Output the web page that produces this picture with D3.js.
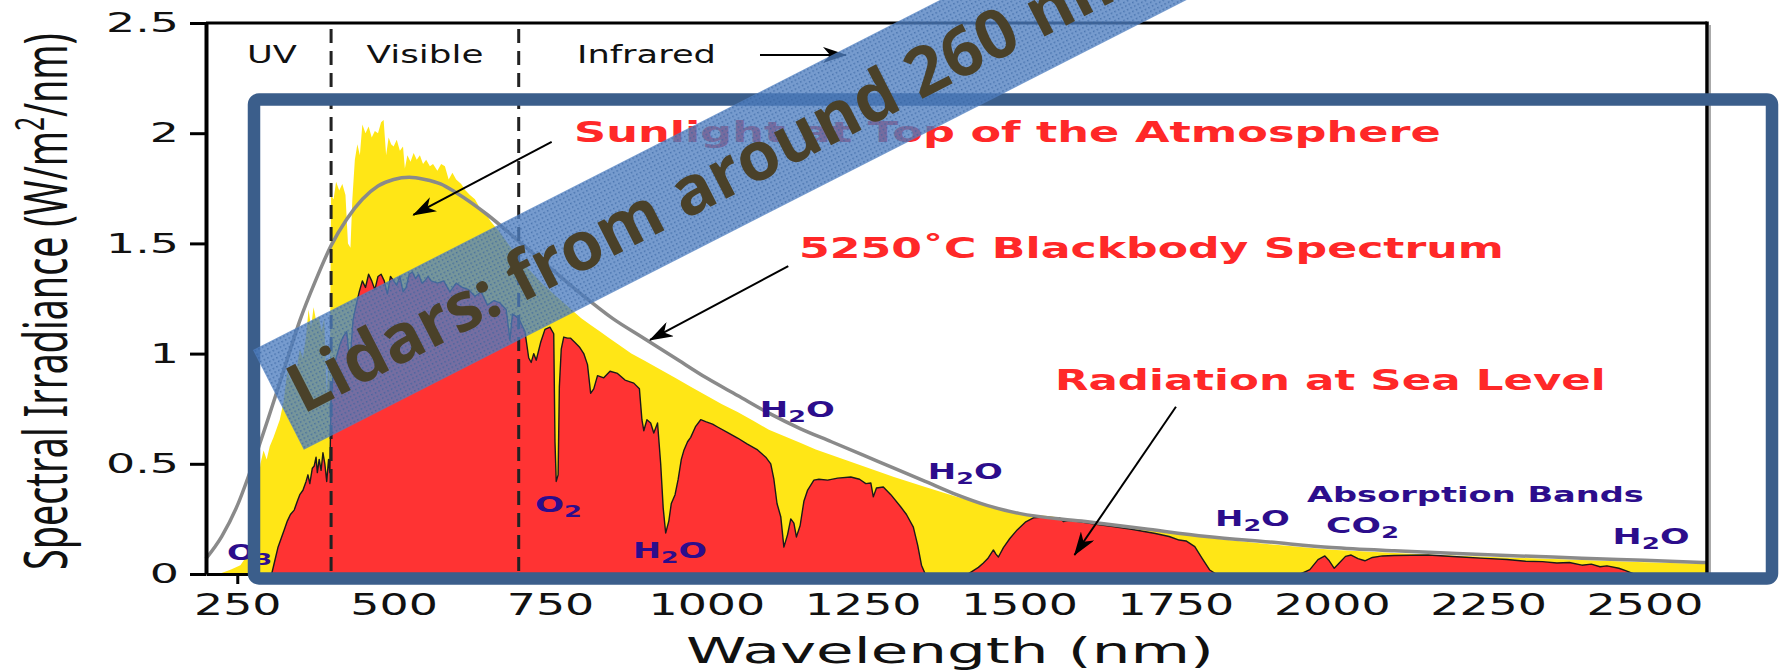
<!DOCTYPE html>
<html>
<head>
<meta charset="utf-8">
<script src="https://d3js.org/d3.v7.min.js"></script>
<style>
  body { margin: 0; background: #fff; }
  svg { display: block; }
</style>
</head>
<body>
<script>
// spectra: [wavelength nm, W/m2/nm]
const topOfAtmosphere = [
  [200,0],[225,0.005],[240,0.02],[255,0.04],[265,0.08],[272,0.15],[280,0.3],[287,0.5],[292,0.56],[297,0.52],
  [302,0.58],[308,0.62],[313,0.66],[318,0.7],[324,0.78],[330,0.92],[335,0.88],[340,0.95],[345,0.93],[350,1.02],
  [355,0.98],[360,1.08],[364,1.2],[368,1.12],[372,1.21],[376,1.15],[380,1.17],[385,1.1],[389,1.16],[393,0.8],
  [396,1.0],[398,0.85],[400,1.72],[404,1.7],[408,1.78],[413,1.74],[418,1.77],[423,1.72],[427,1.5],[431,1.48],
  [434,1.7],[438,1.88],[442,1.95],[446,1.9],[450,2.04],[455,2.0],[460,2.03],[465,1.98],[470,2.01],[475,2.0],
  [480,2.05],[484,2.06],[488,1.9],[492,1.98],[496,1.95],[500,1.94],[505,1.97],[510,1.92],[515,1.94],[518,1.84],
  [522,1.9],[527,1.87],[532,1.91],[537,1.88],[542,1.9],[547,1.86],[552,1.88],[558,1.85],[563,1.86],[570,1.83],
  [576,1.86],[582,1.85],[588,1.79],[594,1.82],[600,1.79],[608,1.77],[615,1.74],[622,1.72],[630,1.7],[638,1.66],
  [646,1.64],[655,1.6],[661,1.58],[670,1.55],[680,1.51],[690,1.47],[700,1.43],[720,1.37],[740,1.31],[760,1.26],
  [780,1.21],[800,1.16],[815,1.13],[830,1.1],[845,1.07],[860,1.04],[880,1.0],[900,0.97],[925,0.93],[950,0.89],
  [975,0.85],[1000,0.81],[1025,0.77],[1050,0.735],[1075,0.695],[1100,0.655],[1125,0.625],[1150,0.595],
  [1175,0.565],[1200,0.54],[1225,0.515],[1250,0.49],[1275,0.465],[1300,0.44],[1350,0.395],[1400,0.35],
  [1450,0.312],[1500,0.275],[1550,0.262],[1600,0.24],[1650,0.222],[1700,0.203],[1750,0.185],[1800,0.165],
  [1850,0.15],[1900,0.135],[1950,0.122],[2000,0.11],[2100,0.095],[2200,0.083],[2300,0.073],[2400,0.063],
  [2500,0.053],[2600,0.045]
];

const seaLevel = [
  [290,0],[305,0],[310,0.06],[315,0.12],[320,0.16],[325,0.2],[330,0.24],[335,0.27],[341,0.29],[346,0.33],
  [350,0.36],[355,0.38],[360,0.42],[363,0.45],[366,0.41],[370,0.48],[373,0.49],[376,0.53],[378,0.46],[381,0.52],
  [384,0.47],[387,0.55],[390,0.5],[393,0.42],[396,0.52],[398,0.46],[400,0.8],[405,0.95],[410,1.0],[415,1.05],
  [420,1.08],[425,1.1],[430,0.95],[435,1.15],[440,1.22],[445,1.28],[450,1.33],[455,1.3],[460,1.36],[465,1.33],
  [470,1.29],[475,1.35],[480,1.36],[485,1.33],[490,1.27],[495,1.35],[500,1.33],[505,1.31],[510,1.35],[515,1.28],
  [520,1.3],[525,1.36],[530,1.37],[535,1.34],[540,1.36],[545,1.32],[550,1.33],[555,1.35],[560,1.33],[570,1.32],
  [580,1.33],[590,1.28],[600,1.32],[610,1.3],[620,1.29],[630,1.26],[640,1.28],[650,1.22],[660,1.24],[670,1.23],
  [680,1.2],[686,1.06],[690,1.18],[700,1.16],[710,1.1],[716,0.98],[720,0.96],[724,1.0],[728,0.97],[735,1.05],
  [742,1.11],[750,1.12],[756,1.09],[758,0.6],[760,0.42],[763,0.45],[765,0.85],[768,1.02],[772,1.075],[778,1.07],
  [783,1.07],[790,1.05],[797,1.03],[804,1.0],[810,0.95],[815,0.82],[820,0.84],[826,0.9],[836,0.89],[846,0.92],
  [858,0.91],[870,0.88],[884,0.866],[893,0.84],[897,0.7],[900,0.65],[905,0.7],[911,0.685],[916,0.64],[922,0.685],
  [927,0.5],[931,0.3],[935,0.186],[940,0.24],[944,0.32],[950,0.36],[955,0.43],[960,0.52],[964,0.56],[970,0.6],
  [975,0.62],[983,0.67],[991,0.7],[1000,0.69],[1010,0.68],[1018,0.667],[1035,0.64],[1050,0.617],[1065,0.59],
  [1082,0.563],[1095,0.53],[1103,0.5],[1108,0.43],[1113,0.32],[1119,0.26],[1124,0.122],[1130,0.18],[1135,0.25],
  [1140,0.231],[1144,0.168],[1150,0.22],[1156,0.33],[1162,0.381],[1172,0.426],[1180,0.43],[1194,0.426],
  [1210,0.435],[1231,0.44],[1245,0.43],[1255,0.41],[1263,0.413],[1267,0.35],[1272,0.39],[1283,0.395],[1295,0.36],
  [1311,0.304],[1320,0.27],[1331,0.213],[1338,0.13],[1344,0.04],[1350,0],[1418,0],[1425,0.012],[1435,0.03],
  [1443,0.05],[1450,0.07],[1459,0.109],[1463,0.09],[1467,0.077],[1475,0.12],[1485,0.16],[1497,0.2],[1510,0.235],
  [1523,0.255],[1540,0.258],[1555,0.256],[1565,0.254],[1571,0.238],[1580,0.244],[1600,0.236],[1626,0.224],
  [1650,0.215],[1680,0.203],[1700,0.193],[1718,0.184],[1740,0.17],[1756,0.154],[1767,0.15],[1781,0.124],
  [1793,0.07],[1805,0.018],[1815,0],[1950,0],[1965,0.02],[1978,0.065],[1989,0.082],[1996,0.06],[2004,0.026],
  [2012,0.05],[2022,0.08],[2031,0.086],[2042,0.07],[2053,0.06],[2065,0.075],[2081,0.082],[2100,0.084],
  [2154,0.086],[2200,0.078],[2245,0.071],[2280,0.066],[2310,0.058],[2337,0.056],[2360,0.05],[2380,0.052],
  [2400,0.04],[2415,0.045],[2429,0.033],[2440,0.037],[2459,0.026],[2470,0.015],[2483,0],[2600,0]
];

const blackbody = [
  [200,0.07],[225,0.17],[250,0.31],[275,0.5],[300,0.71],[325,0.93],[350,1.15],[375,1.33],[400,1.49],[425,1.61],
  [450,1.7],[475,1.76],[500,1.79],[525,1.8],[550,1.79],[575,1.77],[600,1.73],[650,1.63],[700,1.51],[750,1.39],
  [800,1.27],[850,1.16],[900,1.07],[950,0.98],[1000,0.89],[1050,0.81],[1100,0.73],[1150,0.66],[1200,0.6],
  [1250,0.54],[1300,0.48],[1350,0.42],[1400,0.36],[1450,0.31],[1500,0.275],[1600,0.24],[1700,0.205],[1800,0.17],
  [1900,0.145],[2000,0.12],[2100,0.105],[2200,0.093],[2300,0.082],[2400,0.072],[2500,0.062],[2600,0.052]
];

const xTicks = [250, 500, 750, 1000, 1250, 1500, 1750, 2000, 2250, 2500];
const yTicks = [0, 0.5, 1, 1.5, 2, 2.5];
const bandEdges = [400, 700];   // UV | Visible | Infrared

// annotation layout, in data units
const regionNotes = [
  {text: 'UV', nm: 305.5, val: 2.318, w: 50, anchor: 'middle'},
  {text: 'Visible', nm: 550.2, val: 2.318, w: 117, anchor: 'middle'},
  {text: 'Infrared', nm: 793.2, val: 2.318, w: 139, anchor: 'start'}
];
const redNotes = [
  {text: 'Sunlight at Top of the Atmosphere', nm: 788.4, val: 1.961, w: 867},
  {text: '5250\u02DAC Blackbody Spectrum', nm: 1148.2, val: 1.434, w: 705},
  {text: 'Radiation at Sea Level', nm: 1557.5, val: 0.835, w: 551}
];
const gasNotes = [
  {text: 'O_3', nm: 233.6, val: 0.064, w: 45},
  {text: 'O_2', nm: 726, val: 0.281, w: 47},
  {text: 'H_2O', nm: 882.6, val: 0.073, w: 74},
  {text: 'H_2O', nm: 1085.6, val: 0.712, w: 75},
  {text: 'H_2O', nm: 1354.2, val: 0.431, w: 75},
  {text: 'H_2O', nm: 1813.3, val: 0.218, w: 75},
  {text: 'Absorption Bands', nm: 1960.4, val: 0.327, w: 337},
  {text: 'CO_2', nm: 1990.8, val: 0.186, w: 73},
  {text: 'H_2O', nm: 2449.1, val: 0.136, w: 77}
];
const arrows = [
  {from: [752.7, 1.961], to: [531.5, 1.629]},
  {from: [1131, 1.397], to: [909.9, 1.062]},
  {from: [1750.9, 0.759], to: [1588.7, 0.086]},
  {from: [1085.8, 2.355], to: [1223.3, 2.355]}
];

const W = 1779, H = 672;
const svg = d3.select('body').append('svg').attr('width', W).attr('height', H);

const x = d3.scaleLinear().domain([200, 2600]).range([206, 1707]);
const y = d3.scaleLinear().domain([0, 2.5]).range([574, 23]);

const defs = svg.append('defs');
defs.append('marker')
    .attr('id', 'head')
    .attr('markerUnits', 'userSpaceOnUse')
    .attr('viewBox', '0 -8 24 16')
    .attr('refX', 23).attr('refY', 0)
    .attr('markerWidth', 24).attr('markerHeight', 16)
    .attr('orient', 'auto')
    .append('path')
    .attr('d', 'M0,-8 L24,0 L0,8 L7,0 Z')
    .attr('fill', '#000');

const dots = defs.append('pattern')
    .attr('id', 'dots')
    .attr('patternUnits', 'userSpaceOnUse')
    .attr('width', 4).attr('height', 4);
dots.append('rect').attr('width', 4).attr('height', 4)
    .attr('fill', '#4f7fc0').attr('fill-opacity', 0.78);
dots.append('rect').attr('x', 1).attr('y', 1).attr('width', 1.5).attr('height', 1.5)
    .attr('fill', '#34609f').attr('fill-opacity', 0.7);

// text drawn wide, like the stretched original; "_2" subscript, "^2" superscript
function addText(parent, str, px, py, o) {
    const t = parent.append('text')
        .attr('font-family', o.family || 'DejaVu Sans')
        .attr('font-size', o.size)
        .attr('font-weight', o.weight || 'normal')
        .attr('fill', o.fill || '#111')
        .attr('text-anchor', o.anchor || 'start');
    let shift = 0;
    str.split(/([_^]\d)/).filter(s => s).forEach(p => {
        const ts = t.append('tspan');
        let s = 0;
        if (p[0] === '_') { s = o.size * 0.25; ts.attr('font-size', o.size * 0.75).text(p.slice(1)); }
        else if (p[0] === '^') { s = -o.size * 0.4; ts.attr('font-size', o.size * 0.65).text(p.slice(1)); }
        else ts.text(p);
        if (s - shift !== 0) ts.attr('dy', s - shift);
        shift = s;
    });
    const w0 = t.node().getComputedTextLength();
    const sx = o.width ? o.width / w0 : (o.sx || 1);
    t.attr('transform', `translate(${px},${py}) scale(${sx},1)`);
    return t;
}

// spectra
svg.append('path')
    .datum(topOfAtmosphere)
    .attr('fill', '#ffe616')
    .attr('d', d3.area().x(d => x(d[0])).y0(y(0)).y1(d => y(d[1])));

svg.append('path')
    .datum(seaLevel)
    .attr('fill', '#ff3333')
    .attr('d', d3.area().x(d => x(d[0])).y0(y(0)).y1(d => y(d[1])));

svg.append('path')
    .datum(seaLevel)
    .attr('fill', 'none')
    .attr('stroke', '#1a1a1a')
    .attr('stroke-width', 1.4)
    .attr('stroke-linejoin', 'round')
    .attr('d', d3.line().x(d => x(d[0])).y(d => y(d[1])));

svg.append('path')
    .datum(blackbody)
    .attr('fill', 'none')
    .attr('stroke', '#8a8a8a')
    .attr('stroke-width', 3.5)
    .attr('d', d3.line().curve(d3.curveMonotoneX).x(d => x(d[0])).y(d => y(d[1])));

// UV / visible / infrared separators
svg.selectAll('line.edge')
    .data(bandEdges)
    .enter()
    .append('line')
    .attr('class', 'edge')
    .attr('x1', d => x(d)).attr('x2', d => x(d))
    .attr('y1', y(2.5) + 6).attr('y2', y(0))
    .attr('stroke', '#222')
    .attr('stroke-width', 3)
    .attr('stroke-dasharray', '14,8');

// axes
const xAxis = d3.axisBottom(x).tickValues(xTicks).tickSize(10).tickSizeOuter(0).tickPadding(9).tickFormat(d => d);
const gx = svg.append('g').attr('transform', `translate(0,${y(0)})`).call(xAxis);
gx.select('.domain').attr('stroke', '#000').attr('stroke-width', 3);
gx.selectAll('.tick line').attr('stroke', '#000').attr('stroke-width', 3);
gx.selectAll('.tick text')
    .attr('font-family', 'DejaVu Sans')
    .attr('font-size', 31)
    .attr('fill', '#111')
    .attr('transform', 'scale(1.48,1)');

const yAxis = d3.axisLeft(y).tickValues(yTicks).tickSize(16).tickSizeOuter(0).tickPadding(10).tickFormat(d => d);
const gy = svg.append('g').attr('transform', `translate(${x(200)},0)`).call(yAxis);
gy.select('.domain').attr('stroke', '#000').attr('stroke-width', 4);
gy.selectAll('.tick line').attr('stroke', '#000').attr('stroke-width', 3);
gy.selectAll('.tick text')
    .attr('font-family', 'DejaVu Sans')
    .attr('font-size', 27)
    .attr('fill', '#111')
    .attr('x', -27 / 1.7)
    .attr('transform', 'scale(1.7,1)');

// top and right frame, with the grey shadow on the right
svg.append('line')
    .attr('x1', x(200)).attr('x2', x(2600)).attr('y1', y(2.5)).attr('y2', y(2.5))
    .attr('stroke', '#000').attr('stroke-width', 3);
svg.append('line')
    .attr('x1', x(2600) + 3).attr('x2', x(2600) + 3).attr('y1', y(2.5) + 2).attr('y2', y(0))
    .attr('stroke', '#aaa').attr('stroke-width', 2);
svg.append('line')
    .attr('x1', x(2600)).attr('x2', x(2600)).attr('y1', y(2.5) - 1.5).attr('y2', y(0))
    .attr('stroke', '#000').attr('stroke-width', 3.5);

// axis titles
addText(svg, 'Wavelength (nm)', 686, 663, {size: 36, width: 528});

// y title: condensed along its length, tall across it, like the original
const yTitle = svg.append('text')
    .attr('font-family', 'Noto Sans')
    .attr('font-size', 40)
    .attr('fill', '#111')
    .attr('text-anchor', 'middle');
yTitle.append('tspan').text('Spectral Irradiance (W/m');
yTitle.append('tspan').attr('class', 'sup').attr('dy', -15).attr('font-size', 26).text('2');
yTitle.append('tspan').attr('class', 'back').attr('dy', 15).text('/nm)');
const yLen = yTitle.node().getComputedTextLength();
const ySize = 40 * 537 / yLen;
yTitle.attr('font-size', ySize);
yTitle.select('.sup').attr('font-size', ySize * 0.65).attr('dy', -ySize * 0.38);
yTitle.select('.back').attr('dy', ySize * 0.38);
const yStretch = 42 / ySize * 1.45;
yTitle.attr('transform', `translate(67,301.5) scale(${yStretch},1) rotate(-90)`);

// annotations
regionNotes.forEach(n => addText(svg, n.text, x(n.nm), y(n.val), {size: 25, width: n.w, anchor: n.anchor}));
redNotes.forEach(n => addText(svg, n.text, x(n.nm), y(n.val),
    {size: 29, weight: 'bold', fill: '#ff2828', width: n.w}));
gasNotes.forEach(n => addText(svg, n.text, x(n.nm), y(n.val),
    {size: 21, weight: 'bold', fill: '#2c0d8c', width: n.w}));

svg.selectAll('line.arrow')
    .data(arrows)
    .enter()
    .append('line')
    .attr('class', 'arrow')
    .attr('x1', d => x(d.from[0])).attr('y1', d => y(d.from[1]))
    .attr('x2', d => x(d.to[0])).attr('y2', d => y(d.to[1]))
    .attr('stroke', '#000')
    .attr('stroke-width', 2)
    .attr('marker-end', 'url(#head)');

// slide overlay: outline box and the tilted banner
svg.append('rect')
    .attr('x', 254).attr('y', 99.5)
    .attr('width', 1518).attr('height', 479)
    .attr('rx', 5)
    .attr('fill', 'none')
    .attr('stroke', '#3b5e8b')
    .attr('stroke-width', 12.5);

const banner = svg.append('g').attr('transform', 'translate(253,350) rotate(-27)');
banner.append('rect')
    .attr('width', 1400).attr('height', 112)
    .attr('fill', 'url(#dots)');
banner.append('text')
    .attr('x', 15).attr('y', 80)
    .attr('font-family', 'Open Sans')
    .attr('font-weight', 700)
    .attr('font-size', 68)
    .attr('fill', '#4a4129')
    .text('Lidars: from around 260 nm to 2 \u00B5m');
</script>
</body>
</html>
